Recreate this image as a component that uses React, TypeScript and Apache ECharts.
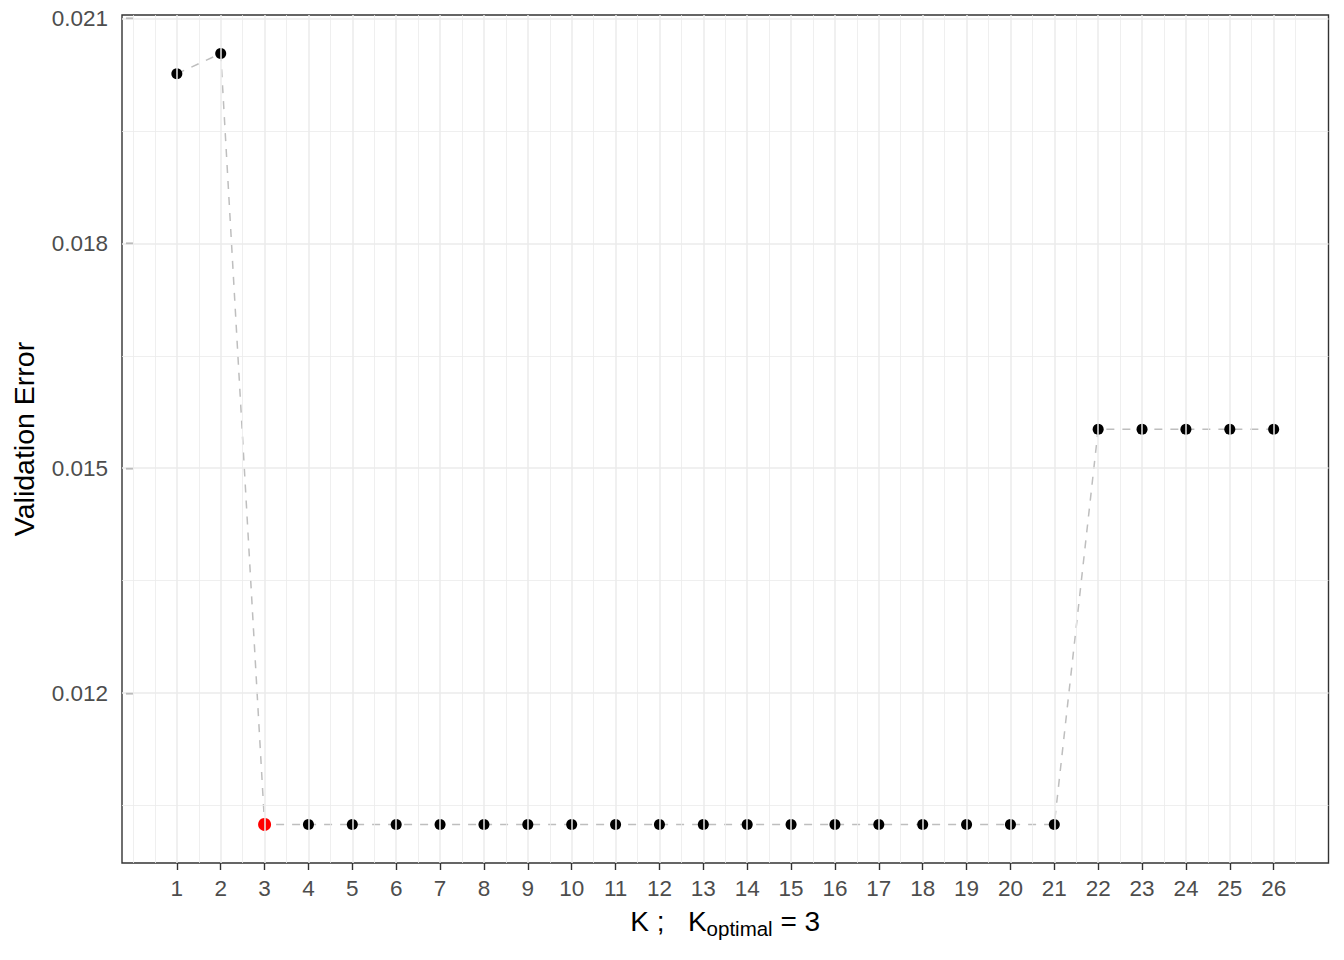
import React, { useEffect, useRef } from "react";
import * as echarts from "echarts";

const kValues: number[] = [1, 2, 3, 4, 5, 6, 7, 8, 9, 10, 11, 12, 13, 14, 15, 16, 17, 18, 19, 20, 21, 22, 23, 24, 25, 26];
const validationErrors: number[] = [
  0.02026, 0.02053, 0.01025, 0.01025, 0.01025, 0.01025, 0.01025, 0.01025, 0.01025, 0.01025,
  0.01025, 0.01025, 0.01025, 0.01025, 0.01025, 0.01025, 0.01025, 0.01025, 0.01025, 0.01025,
  0.01025, 0.01552, 0.01552, 0.01552, 0.01552, 0.01552,
];
const yTickValues: number[] = [0.012, 0.015, 0.018, 0.021];
const yMinorValues: number[] = [0.0105, 0.0135, 0.0165, 0.0195];
const xTickValues: number[] = kValues;
const xMinorValues: number[] = [0, ...kValues.map((k) => k - 0.5), 26.5];

const FONT = "'Liberation Sans', Arial, Helvetica, sans-serif";

export default function App() {
  const ref = useRef<HTMLDivElement>(null);

  useEffect(() => {
    if (!ref.current) return;
    const chart = echarts.init(ref.current, undefined, { renderer: "svg" });

    const yMinD = Math.min(...validationErrors);
    const yMaxD = Math.max(...validationErrors);
    const yPad = (yMaxD - yMinD) * 0.05;
    const xMinD = Math.min(...kValues);
    const xMaxD = Math.max(...kValues);
    const xPad = (xMaxD - xMinD) * 0.05;

    let optIdx = 0;
    validationErrors.forEach((v, i) => {
      if (v < validationErrors[optIdx]) optIdx = i;
    });
    const optimalK = kValues[optIdx];

    const pairs = kValues.map((k, i) => [k, validationErrors[i]]);
    const lineData = pairs.map((p, i) =>
      i === optIdx
        ? { value: p, symbolSize: 13, itemStyle: { color: "#FF0000" } }
        : { value: p }
    );

    const gridLine = (width: number) => ({ color: "#EBEBEB", width, type: "solid" as const });
    const markData: any[] = [
      ...yMinorValues.map((v) => ({ yAxis: v, lineStyle: gridLine(0.8) })),
      ...xMinorValues.map((v) => ({ xAxis: v, lineStyle: gridLine(0.8) })),
      ...yTickValues.map((v) => ({ yAxis: v, lineStyle: gridLine(1.5) })),
      ...xTickValues.map((v) => ({ xAxis: v, lineStyle: gridLine(1.5) })),
    ];

    chart.setOption({
      animation: false,
      backgroundColor: "#FFFFFF",
      textStyle: { fontFamily: FONT },
      grid: {
        left: 122,
        right: 15.5,
        top: 15,
        bottom: 97,
        show: true,
        borderColor: "#333333",
        borderWidth: 1.4,
        backgroundColor: "transparent",
        z: 5,
      },
      xAxis: {
        type: "value",
        min: xMinD - xPad,
        max: xMaxD + xPad,
        axisLine: { show: false },
        splitLine: { show: false },
        axisTick: { show: true, customValues: xTickValues, length: 7, lineStyle: { color: "#333333", width: 1.4 } },
        axisLabel: {
          customValues: xTickValues,
          color: "#4D4D4D",
          fontSize: 22.5,
          fontFamily: FONT,
          margin: 14,
          formatter: (v: number) => String(v),
        },
        name: `{n|K ;   K}{s|optimal}{n| = ${optimalK}}`,
        nameLocation: "middle",
        nameGap: 40,
        nameTextStyle: {
          rich: {
            n: { fontSize: 28, fontFamily: FONT, color: "#000000" },
            s: { fontSize: 20.5, fontFamily: FONT, color: "#000000", padding: [15, 0, 0, 0] },
          },
        },
      },
      yAxis: {
        type: "value",
        min: yMinD - yPad,
        max: yMaxD + yPad,
        axisLine: { show: false },
        splitLine: { show: false },
        axisTick: { show: true, customValues: yTickValues, length: 7, lineStyle: { color: "#333333", width: 1.4 } },
        axisLabel: {
          customValues: yTickValues,
          color: "#4D4D4D",
          fontSize: 22.5,
          fontFamily: FONT,
          margin: 14,
          formatter: (v: number) => v.toFixed(3),
        },
        name: "Validation Error",
        nameLocation: "middle",
        nameRotate: 90,
        nameGap: 84,
        nameTextStyle: { fontSize: 28.5, fontFamily: FONT, color: "#000000" },
      },
      series: [
        {
          type: "line",
          data: pairs,
          z: 1,
          silent: true,
          showSymbol: false,
          symbol: "none",
          lineStyle: { opacity: 0, width: 0 },
          itemStyle: { opacity: 0 },
          emphasis: { disabled: true },
          markLine: {
            silent: true,
            precision: 6,
            symbol: ["none", "none"],
            label: { show: false },
            emphasis: { disabled: true },
            animation: false,
            data: markData,
          },
        },
        {
          type: "line",
          z: 3,
          data: lineData,
          symbol: "circle",
          symbolSize: 11,
          showSymbol: true,
          itemStyle: { color: "#000000" },
          lineStyle: { color: "#BEBEBE", width: 1.5, type: [8, 8] },
          emphasis: { disabled: true },
          silent: true,
        },
      ],
    });

    return () => chart.dispose();
  }, []);

  return (
    <div
      ref={ref}
      style={{ position: "fixed", left: 0, top: 0, width: 1344, height: 960, background: "#FFFFFF" }}
    />
  );
}
